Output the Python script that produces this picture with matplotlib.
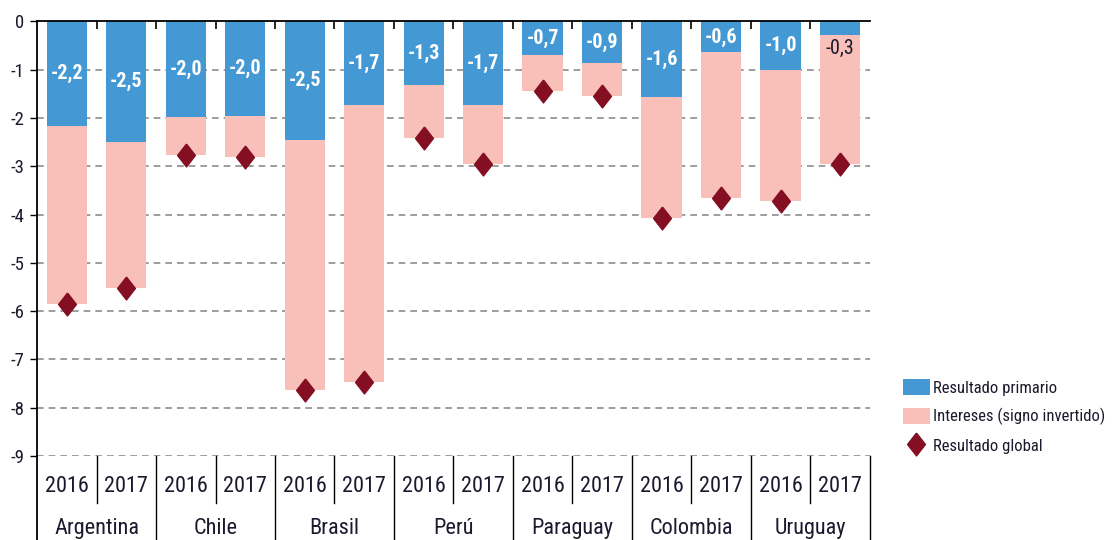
import matplotlib.pyplot as plt
from matplotlib.lines import Line2D
from matplotlib.patches import Patch

plt.rcParams['font.family'] = ['Roboto Condensed', 'DejaVu Sans']

# Data
countries = ['Argentina', 'Chile', 'Brasil', 'Perú', 'Paraguay', 'Colombia', 'Uruguay']
years = ['2016', '2017']
primario = [-2.16, -2.49, -1.98, -1.96, -2.46, -1.73, -1.32, -1.74, -0.70, -0.86, -1.57, -0.64, -1.01, -0.27]
intereses = [-3.70, -3.04, -0.79, -0.85, -5.18, -5.73, -1.10, -1.21, -0.74, -0.69, -2.50, -3.01, -2.71, -2.68]
global_res = [-5.86, -5.53, -2.77, -2.81, -7.64, -7.46, -2.42, -2.95, -1.44, -1.55, -4.07, -3.65, -3.72, -2.95]

blue = '#4499d4'
pink = '#f9c0b9'
wine = '#840e22'
txt = '#1a1a2e'

fig = plt.figure(figsize=(11.12, 5.4), dpi=100)
ax = fig.add_axes([0.0333, 0.1556, 0.7490, 0.8046])

x = list(range(len(primario)))
ax.bar(x, primario, width=0.68, color=blue, edgecolor='none', zorder=2)
ax.bar(x, intereses, width=0.68, bottom=primario, color=pink, edgecolor='none', zorder=2)
diamond = [(0, 1), (0.78, 0), (0, -1), (-0.78, 0), (0, 1)]
ax.plot(x, global_res, linestyle='none', marker=diamond, markersize=16.5,
        color=wine, zorder=3)

# value labels for the primary result
for i, v in enumerate(primario):
    lab = f'{v:.1f}'.replace('.', ',')
    if abs(v) > 0.5:
        ax.text(i, v / 2, lab, ha='center', va='center', color='white',
                fontsize=14.5, fontweight='bold', zorder=4)
    else:
        ax.text(i, v - 0.28, lab, ha='center', va='center', color=txt,
                fontsize=14.5, zorder=4)

ax.set_xlim(-0.5, len(x) - 0.5)
ax.set_ylim(-9, 0)
ax.set_yticks(range(0, -10, -1))
ax.set_yticklabels([str(t) for t in range(0, -10, -1)], fontsize=13.5, color=txt)
ax.tick_params(axis='y', direction='out', length=5, width=1, pad=4)

for y in range(-1, -10, -1):
    ax.axhline(y, color='#8c8c8c', linestyle=(0, (4, 3)), linewidth=1.2, zorder=1)

for s in ['right', 'bottom']:
    ax.spines[s].set_visible(False)
ax.spines['top'].set_linewidth(1.3)
ax.spines['left'].set_linewidth(1.3)
ax.spines['left'].set_bounds(-9, 0)

# top ticks between the bars
ax.xaxis.set_ticks_position('top')
ax.set_xticks([])
ax.set_xticks([i + 0.5 for i in range(len(x) - 1)], minor=True)
ax.tick_params(axis='x', which='minor', direction='in', length=6, width=1.2, top=True)

# two-level category axis below the plot
trans = ax.get_xaxis_transform()
ax.plot([-0.5, -0.5], [0, -0.2], color='black', linewidth=1.3, transform=trans, clip_on=False)
for i, c in enumerate(countries):
    for j, yr in enumerate(years):
        ax.text(2 * i + j, -0.071, yr, transform=trans, ha='center', va='center',
                fontsize=16, color=txt)
    ax.plot([2 * i + 0.5, 2 * i + 0.5], [0, -0.108], color='black', linewidth=1,
            transform=trans, clip_on=False)
    ax.plot([2 * i + 1.5, 2 * i + 1.5], [0, -0.2], color='black', linewidth=1,
            transform=trans, clip_on=False)
    ax.text(2 * i + 0.5, -0.166, c, transform=trans, ha='center', va='center',
            fontsize=16, color=txt)

handles = [Patch(facecolor=blue, label='Resultado primario'),
           Patch(facecolor=pink, label='Intereses (signo invertido)'),
           Line2D([], [], linestyle='none', marker=diamond, markersize=16.5, color=wine,
                  label='Resultado global')]
fig.legend(handles=handles, loc='upper left', bbox_to_anchor=(0.806, 0.31),
           frameon=False, fontsize=12, handlelength=1.6, handleheight=1.1,
           handletextpad=0.2, labelspacing=0.72, borderaxespad=0, labelcolor=txt)

fig.savefig('out.png', dpi=100)
